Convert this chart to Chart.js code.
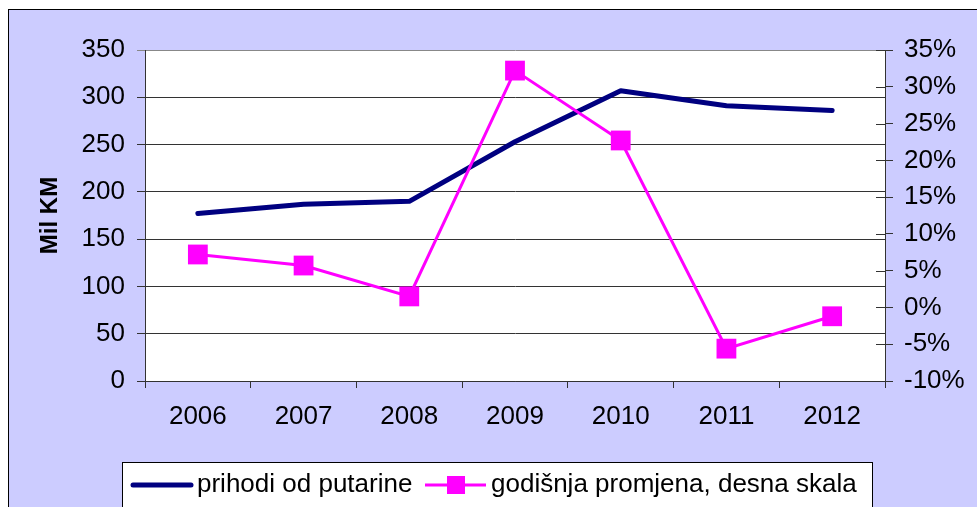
<!DOCTYPE html>
<html>
<head>
<meta charset="utf-8">
<script src="https://cdn.jsdelivr.net/npm/chart.js@4"></script>
<style>
  html, body { margin: 0; padding: 0; background: #fff; }
  canvas { display: block; }
</style>
</head>
<body>
<canvas id="tollChart" width="977" height="507"></canvas>
<script>
// data
const years = ['2006', '2007', '2008', '2009', '2010', '2011', '2012'];
const prihodi = [177, 187, 190, 253, 307, 291, 286];        // Mil KM, left scale
const promjena = [7.2, 5.7, 1.5, 32.2, 22.7, -5.6, -1.2];   // %, right scale
const leftTicks = [0, 350, 50];    // min, max, step
const rightTicks = [-10, 35, 5];

const FONT = 'Liberation Sans, Arial, sans-serif';

// background, outer frame and the boxed legend underneath
const frame = {
  id: 'frame',
  beforeDraw(chart) {
    const ctx = chart.ctx;
    ctx.save();
    ctx.fillStyle = '#fff';
    ctx.fillRect(0, 0, chart.width, chart.height);
    ctx.fillStyle = '#CCCCFF';
    ctx.fillRect(8, 9, chart.width, chart.height);
    ctx.strokeStyle = '#000';
    ctx.lineWidth = 1;
    ctx.strokeRect(8.5, 9.5, chart.width + 10, chart.height + 10);
    const a = chart.chartArea;
    ctx.fillStyle = '#fff';
    ctx.fillRect(a.left, a.top, a.right - a.left, a.bottom - a.top);
    ctx.restore();
  },
  afterDraw(chart) {
    const ctx = chart.ctx;
    const ds = chart.data.datasets;
    ctx.save();
    // right axis ticks cross the axis line: add the inner half
    const r = chart.scales.y1;
    ctx.strokeStyle = '#333';
    ctx.lineWidth = 1;
    r.ticks.forEach((t, i) => {
      const py = Math.round(r.getPixelForTick(i)) + 0.5;
      ctx.beginPath(); ctx.moveTo(r.left - 9, py); ctx.lineTo(r.left, py); ctx.stroke();
    });

    ctx.fillStyle = '#fff';
    ctx.fillRect(122.5, 462.5, 750, 60);
    ctx.strokeStyle = '#000';
    ctx.strokeRect(122.5, 462.5, 750, 60);
    const y = 485;
    ctx.font = '26px ' + FONT;
    ctx.textBaseline = 'middle';
    ctx.fillStyle = '#000';
    // item 1
    ctx.strokeStyle = ds[0].borderColor;
    ctx.lineWidth = ds[0].borderWidth;
    ctx.lineCap = 'round';
    ctx.beginPath(); ctx.moveTo(133, y); ctx.lineTo(191, y); ctx.stroke();
    ctx.fillText(ds[0].label, 197, y);
    // item 2
    ctx.strokeStyle = ds[1].borderColor;
    ctx.lineWidth = ds[1].borderWidth;
    ctx.lineCap = 'butt';
    ctx.beginPath(); ctx.moveTo(425, y); ctx.lineTo(486, y); ctx.stroke();
    ctx.fillStyle = ds[1].backgroundColor;
    ctx.fillRect(447, y - 9, 18, 18);
    ctx.fillStyle = '#000';
    ctx.fillText(ds[1].label, 491, y);
    ctx.restore();
  }
};

const ctxToll = document.getElementById('tollChart').getContext('2d');
const tollChart = new Chart(ctxToll, {
  type: 'line',
  data: {
    labels: years,
    datasets: [{
      label: 'prihodi od putarine',
      data: prihodi,
      yAxisID: 'y',
      borderColor: '#000080',
      backgroundColor: '#000080',
      borderWidth: 5,
      borderCapStyle: 'round',
      borderJoinStyle: 'round',
      pointRadius: 0,
      tension: 0,
      order: 2
    }, {
      label: 'godišnja promjena, desna skala',
      data: promjena,
      yAxisID: 'y1',
      borderColor: '#FF00FF',
      backgroundColor: '#FF00FF',
      borderWidth: 3,
      pointStyle: 'rect',
      pointRadius: 14,
      pointBorderWidth: 0,
      tension: 0,
      order: 1
    }]
  },
  options: {
    responsive: false,
    animation: false,
    layout: { padding: { top: 50, left: 0, right: 0, bottom: 66 } },
    plugins: {
      legend: { display: false },
      tooltip: { enabled: false }
    },
    scales: {
      x: {
        offset: true,
        afterFit: s => { s.height = 60; },
        grid: { offset: true, drawOnChartArea: false, tickLength: 7, color: '#333' },
        border: { color: '#333', width: 1 },
        ticks: { color: '#000', font: { family: FONT, size: 26 }, padding: 13, maxRotation: 0 }
      },
      y: {
        position: 'left',
        min: leftTicks[0], max: leftTicks[1],
        afterFit: s => { s.width = 145; },
        grid: {
          color: c => c.tick.value === leftTicks[1] ? '#888' : '#333',
          tickLength: 8
        },
        border: { color: '#333', width: 1 },
        ticks: { stepSize: leftTicks[2], color: '#000', font: { family: FONT, size: 26 }, padding: 12 },
        title: {
          display: true,
          text: 'Mil KM',
          color: '#000',
          font: { family: FONT, size: 24, weight: 'bold' },
          padding: { top: 36, bottom: 0 }
        }
      },
      y1: {
        position: 'right',
        min: rightTicks[0], max: rightTicks[1],
        afterFit: s => { s.width = 92; },
        grid: { drawOnChartArea: false, tickLength: 8, color: '#333' },
        border: { color: '#333', width: 1 },
        ticks: {
          stepSize: rightTicks[2],
          color: '#000',
          font: { family: FONT, size: 26 },
          padding: 11,
          callback: v => v + '%'
        }
      }
    }
  },
  plugins: [frame]
});
</script>
</body>
</html>
